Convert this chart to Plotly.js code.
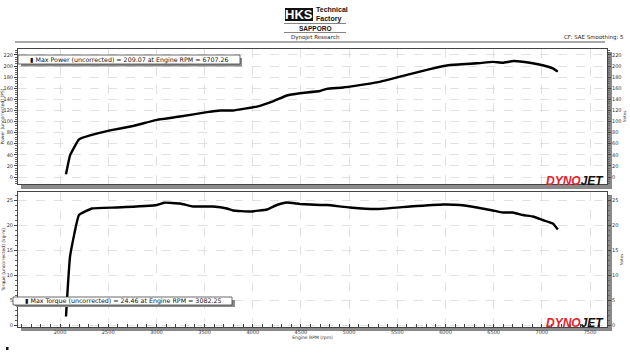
<!DOCTYPE html>
<html><head><meta charset="utf-8">
<script src="https://cdn.plot.ly/plotly-3.0.1.min.js"></script>
<style>body{margin:0;background:#fff}#c{width:630px;height:354px}</style>
</head><body><div id="c"></div>
<script>
// ---- data ----
const rpmPower = [2062,2104,2197,2311,2519,2757,3006,3245,3525,3660,3795,4043,4210,4355,4490,4697,4770,4936,5288,5631,5838,6046,6326,6492,6595,6707,6875,7010,7114,7166];
const power    = [5,39,68,75,84,92,103,109,117,120,120,127,136.5,147,151,155,159,161.5,170.5,185.5,194.5,202,205,207.5,206,209.07,206,201.5,196,190];
const rpmTorque = [2062,2104,2197,2332,2591,3006,3082,3245,3380,3587,3732,3795,3971,4147,4250,4355,4490,4697,4770,5008,5288,5631,5973,6149,6326,6492,6595,6699,6803,6907,7010,7114,7166];
const torque    = [1.7,13.7,22,23.3,23.5,24,24.46,24.3,23.7,23.7,23.3,22.9,22.7,23.1,24,24.5,24.2,24,24,23.5,23.2,23.7,24.1,24,23.5,22.9,22.5,22.5,22,21.7,21,20.3,19.1];
const xTicks = [2000,2500,3000,3500,4000,4500,5000,5500,6000,6500,7000,7500];
const powerTicks = [0,20,40,60,80,100,120,140,160,180,200,220];
const torqueTicks = [0,5,10,15,20,25];
const powerNote = "▮ Max Power (uncorrected) = 209.07 at Engine RPM = 6707.26";
const torqueNote = "▮ Max Torque (uncorrected) = 24.46 at Engine RPM = 3082.25";

// ---- pixel helpers for decoration placement ----
const L=18,R=607,T=49,B=327;
const px=x=>(x-L)/(R-L), py=y=>(B-y)/(B-T);
const F="Tahoma, 'DejaVu Sans', sans-serif";
const tf={family:F,size:5,color:'#333'};
const grid={showgrid:true,gridcolor:'#d4d4d4',griddash:'dash',gridwidth:0.7};
const frame={showline:true,linecolor:'#444',linewidth:1,mirror:true,zeroline:false};

const line={color:'#000',width:2.4,shape:'spline',smoothing:0.3};
const traces=[
 {x:rpmPower,y:power,xaxis:'x2',yaxis:'y2',mode:'lines',line:line,hoverinfo:'skip'},
 {x:rpmPower,y:power,xaxis:'x2',yaxis:'y4',mode:'lines',line:{color:'rgba(0,0,0,0)',width:0},hoverinfo:'skip'},
 {x:rpmTorque,y:torque,xaxis:'x',yaxis:'y',mode:'lines',line:line,hoverinfo:'skip'},
 {x:rpmTorque,y:torque,xaxis:'x',yaxis:'y3',mode:'lines',line:{color:'rgba(0,0,0,0)',width:0},hoverinfo:'skip'}
];
const xr=[1564,7676];
const pr=[-12.6,230.8], tr=[-0.4,26.6];
const dBot=[0,135/278], dTop=[143/278,1];
const yax=(ticks,range,dom,minor,title)=>Object.assign({range:range,domain:dom,tickvals:ticks,ticks:'outside',ticklen:3,tickcolor:'#444',tickfont:tf,
  minor:{dtick:minor,ticks:'outside',ticklen:2,tickcolor:'#666',showgrid:false},
  title:{text:title,font:{family:F,size:4.5,color:'#333'},standoff:1},fixedrange:true},grid,frame);
const layout={
 width:630,height:354,showlegend:false,paper_bgcolor:'#fff',plot_bgcolor:'#fff',
 margin:{l:L,r:630-R,t:T,b:354-B},
 xaxis:Object.assign({range:xr,anchor:'y',tickvals:xTicks,ticks:'inside',ticklen:3,tickcolor:'#444',tickfont:tf,
   minor:{dtick:100,ticks:'inside',ticklen:3,tickcolor:'#444',showgrid:false},
   title:{text:'Engine RPM (rpm)',font:{family:F,size:4.5,color:'#333'},standoff:1}},grid,frame),
 xaxis2:Object.assign({range:xr,anchor:'y2',tickvals:xTicks,showticklabels:false,ticks:''},grid,frame),
 yaxis:yax(torqueTicks,tr,dBot,1,'Torque (uncorrected) (kg·m)'),
 yaxis2:yax(powerTicks,pr,dTop,4,'Power (uncorrected) (PS)'),
 yaxis3:{range:tr,overlaying:'y',side:'right',anchor:'x',tickvals:torqueTicks,ticks:'outside',ticklen:3,tickcolor:'#444',tickfont:tf,showgrid:false,zeroline:false,
   minor:{dtick:1,ticks:'outside',ticklen:2,tickcolor:'#666'},title:{text:'Notes',font:{family:F,size:4,color:'#333'},standoff:2}},
 yaxis4:{range:pr,overlaying:'y2',side:'right',anchor:'x2',tickvals:powerTicks,ticks:'outside',ticklen:3,tickcolor:'#444',tickfont:tf,showgrid:false,zeroline:false,
   minor:{dtick:4,ticks:'outside',ticklen:2,tickcolor:'#666'},title:{text:'Notes',font:{family:F,size:4,color:'#333'},standoff:2}},
 shapes:[
  {type:'line',xref:'paper',yref:'paper',x0:px(15),x1:px(605),y0:py(42),y1:py(42),line:{color:'#555',width:1.2}},
  {type:'line',xref:'paper',yref:'paper',x0:px(284),x1:px(346),y0:py(23.5),y1:py(23.5),line:{color:'#333',width:0.6}},
  {type:'line',xref:'paper',yref:'paper',x0:px(284),x1:px(346),y0:py(32.5),y1:py(32.5),line:{color:'#333',width:0.6}},
  {type:'rect',xref:'paper',yref:'paper',x0:px(21),x1:px(612),y0:py(189),y1:py(185),fillcolor:'#8a8a8a',line:{width:0},layer:'below'},
  {type:'rect',xref:'paper',yref:'paper',x0:px(607),x1:px(612),y0:py(189),y1:py(52),fillcolor:'#8a8a8a',line:{width:0},layer:'below'},
  {type:'rect',xref:'paper',yref:'paper',x0:px(21),x1:px(612),y0:py(331),y1:py(327),fillcolor:'#8a8a8a',line:{width:0},layer:'below'},
  {type:'rect',xref:'paper',yref:'paper',x0:px(607),x1:px(612),y0:py(331),y1:py(195),fillcolor:'#8a8a8a',line:{width:0},layer:'below'},
  {type:'rect',xref:'paper',yref:'paper',x0:px(21),x1:px(242),y0:py(66.5),y1:py(58),fillcolor:'#8a8a8a',line:{width:0}},
  {type:'rect',xref:'paper',yref:'paper',x0:px(16),x1:px(235),y0:py(307),y1:py(300),fillcolor:'#8a8a8a',line:{width:0}},
  {type:'rect',xref:'paper',yref:'paper',x0:px(18),x1:px(240),y0:py(64),y1:py(55),fillcolor:'#fff',line:{color:'#444',width:0.8}},
  {type:'rect',xref:'paper',yref:'paper',x0:px(13),x1:px(232),y0:py(305),y1:py(297),fillcolor:'#fff',line:{color:'#444',width:0.8}},
  {type:'rect',xref:'paper',yref:'paper',x0:px(285),x1:px(313),y0:py(21),y1:py(8),fillcolor:'#111',line:{width:0}},
  {type:'rect',xref:'paper',yref:'paper',x0:px(6),x1:px(8.5),y0:py(350),y1:py(347),fillcolor:'#111',line:{width:0}}
 ],
 annotations:[
  {xref:'paper',yref:'paper',x:px(299),y:py(14.5),text:'<b>HKS</b>',showarrow:false,font:{family:'Liberation Sans, Arial',size:13,color:'#fff'},xanchor:'center',yanchor:'middle'},
  {xref:'paper',yref:'paper',x:px(314),y:py(14.5),text:'<b>Technical<br>Factory</b>',showarrow:false,align:'left',font:{family:'Liberation Sans Narrow, Liberation Sans, Arial',size:7,color:'#111'},xanchor:'left',yanchor:'middle'},
  {xref:'paper',yref:'paper',x:px(315),y:py(28),text:'<b>SAPPORO</b>',showarrow:false,font:{family:'Liberation Sans, Arial',size:6.5,color:'#111'},xanchor:'center',yanchor:'middle'},
  {xref:'paper',yref:'paper',x:px(315),y:py(37.5),text:'Dynojet Research',showarrow:false,font:{family:F,size:5.5,color:'#222'},xanchor:'center',yanchor:'middle'},
  {xref:'paper',yref:'paper',x:px(626),y:py(37.5),text:'CF: SAE Smoothing: 5',showarrow:false,font:{family:F,size:5.5,color:'#222'},xanchor:'right',yanchor:'middle'},
  {xref:'paper',yref:'paper',x:px(129),y:py(59.5),text:powerNote,showarrow:false,font:{family:F,size:6.3,color:'#111'},xanchor:'center',yanchor:'middle'},
  {xref:'paper',yref:'paper',x:px(122.5),y:py(301),text:torqueNote,showarrow:false,font:{family:F,size:6.3,color:'#111'},xanchor:'center',yanchor:'middle'},
  {xref:'paper',yref:'paper',x:px(606),y:py(181),text:'<b><i><span style="color:#e8202a">DYNO</span><span style="color:#111">JET</span></i></b>',showarrow:false,font:{family:'Liberation Sans, Arial',size:12},xanchor:'right',yanchor:'middle'},
  {xref:'paper',yref:'paper',x:px(606),y:py(323),text:'<b><i><span style="color:#e8202a">DYNO</span><span style="color:#111">JET</span></i></b>',showarrow:false,font:{family:'Liberation Sans, Arial',size:12},xanchor:'right',yanchor:'middle'}
 ]
};
Plotly.newPlot('c',traces,layout,{staticPlot:true});
</script></body></html>
